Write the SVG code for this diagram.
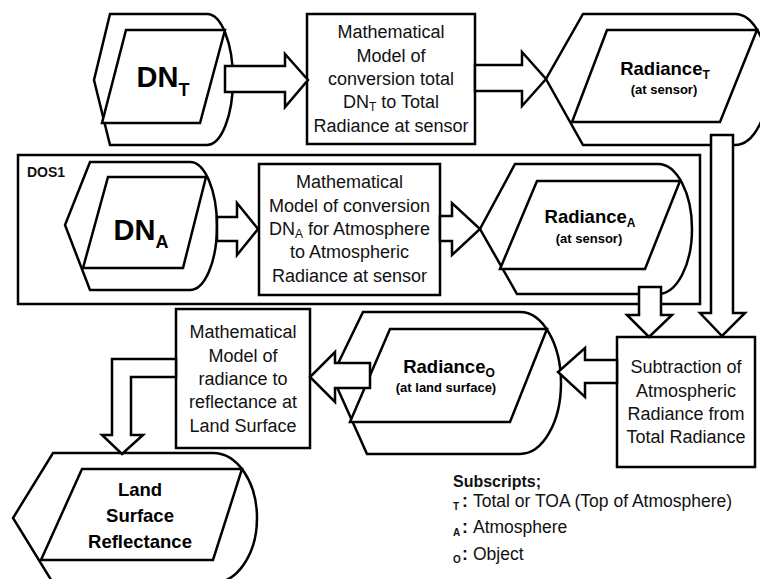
<svg xmlns="http://www.w3.org/2000/svg" width="760" height="579" viewBox="0 0 760 579">
<style>
  .ln { fill: #fff; stroke: #000; stroke-width: 2.5; stroke-linejoin: miter; }
  .fr { fill: none; stroke: #000; stroke-width: 2.5; }
  .tx { font-family: "Liberation Sans", Arial, sans-serif; font-size: 18px; fill: #111; text-anchor: middle; }
  .big { font-family: "Liberation Sans", Arial, sans-serif; font-size: 29px; font-weight: bold; fill: #000; text-anchor: middle; }
  .bsub { font-size: 18px; }
  .lab { font-family: "Liberation Sans", Arial, sans-serif; font-size: 18.5px; font-weight: bold; fill: #000; text-anchor: middle; }
  .lsub { font-size: 12px; }
  .small { font-family: "Liberation Sans", Arial, sans-serif; font-size: 13px; font-weight: bold; fill: #000; text-anchor: middle; }
  .tsub { font-size: 12px; }
  .leg { font-family: "Liberation Sans", Arial, sans-serif; font-size: 17.5px; fill: #111; }
  .legb { font-family: "Liberation Sans", Arial, sans-serif; font-size: 16px; font-weight: bold; fill: #111; }
  .legs { font-size: 10px; font-weight: bold; }
</style>
<rect width="760" height="579" fill="#fff"/>

<g id="dos1-frame">
  <rect class="fr" x="18" y="155" width="682" height="149"/>
  <text x="27" y="177" font-family="'Liberation Sans', Arial, sans-serif" font-size="14" font-weight="bold" fill="#111">DOS1</text>
</g>

<g id="node-dnt">
  <path class="ln" d="M110,14 L207,14 A26,65.5 0 0 1 207,145 L110,145 L94,80 Z"/>
  <path class="ln" d="M126,30 L225,30 L200,123 L102,123 Z"/>
  <text class="big" x="163" y="87">DN<tspan class="bsub" dy="9">T</tspan></text>
</g>

<g id="node-model1">
  <rect class="ln" x="307" y="14" width="168" height="130"/>
  <text class="tx" x="391" y="38">Mathematical</text>
  <text class="tx" x="391" y="62">Model of</text>
  <text class="tx" x="391" y="85">conversion total</text>
  <text class="tx" x="391" y="108">DN<tspan class="tsub" dy="3">T</tspan><tspan dy="-3"> to Total</tspan></text>
  <text class="tx" x="391" y="132">Radiance at sensor</text>
</g>

<g id="node-radt">
  <path class="ln" d="M583,14 L735,14 A34,65.5 0 0 1 735,145 L583,145 L546,79 Z"/>
  <path class="ln" d="M607,30 L757,30 L720,122 L572,122 Z"/>
  <text class="lab" x="665" y="75">Radiance<tspan class="lsub" dy="4">T</tspan></text>
  <text class="small" x="664" y="94">(at sensor)</text>
</g>

<g id="node-dna">
  <path class="ln" d="M90,162 L190,162 A27,64 0 0 1 190,290 L90,290 L65,225 Z"/>
  <path class="ln" d="M108,177 L206,177 L183,268 L83,268 Z"/>
  <text class="big" x="141" y="240">DN<tspan class="bsub" dy="8">A</tspan></text>
</g>

<g id="node-model2">
  <rect class="ln" x="259" y="164" width="181" height="131"/>
  <text class="tx" x="349.5" y="188">Mathematical</text>
  <text class="tx" x="349.5" y="212">Model of conversion</text>
  <text class="tx" x="349.5" y="235">DN<tspan class="tsub" dy="3">A</tspan><tspan dy="-3"> for Atmosphere</tspan></text>
  <text class="tx" x="349.5" y="258">to Atmospheric</text>
  <text class="tx" x="349.5" y="282">Radiance at sensor</text>
</g>

<g id="node-rada">
  <path class="ln" d="M515,164 L658,164 A34,65 0 0 1 658,294 L517,294 L480,229 Z"/>
  <path class="ln" d="M537,181 L680,181 L645,269 L500,269 Z"/>
  <text class="lab" x="590" y="223">Radiance<tspan class="lsub" dy="4">A</tspan></text>
  <text class="small" x="589" y="243">(at sensor)</text>
</g>

<g id="node-subtraction">
  <rect class="ln" x="617" y="337" width="138" height="130"/>
  <text class="tx" x="686" y="373">Subtraction of</text>
  <text class="tx" x="686" y="397">Atmospheric</text>
  <text class="tx" x="686" y="420">Radiance from</text>
  <text class="tx" x="686" y="443">Total Radiance</text>
</g>

<g id="node-rado">
  <path class="ln" d="M363,312 L520,312 A41,71 0 0 1 520,454 L367,454 L332,376 Z"/>
  <path class="ln" d="M390,329 L547,329 L510,422 L350,422 Z"/>
  <text class="lab" x="449" y="373">Radiance<tspan class="lsub" dy="4">O</tspan></text>
  <text class="small" x="446" y="392">(at land surface)</text>
</g>

<g id="node-model3">
  <rect class="ln" x="176" y="309" width="134" height="139"/>
  <text class="tx" x="243" y="338">Mathematical</text>
  <text class="tx" x="243" y="362">Model of</text>
  <text class="tx" x="243" y="385">radiance to</text>
  <text class="tx" x="243" y="408">reflectance at</text>
  <text class="tx" x="243" y="432">Land Surface</text>
</g>

<g id="node-lsr">
  <path class="ln" d="M53,453 L213,453 A44,65 0 0 1 213,583 L53,583 L13,518 Z"/>
  <path class="ln" d="M82,469 L242,469 L213,560 L41,560 Z"/>
  <text class="lab" x="140" y="496">Land</text>
  <text class="lab" x="140" y="522">Surface</text>
  <text class="lab" x="140" y="548">Reflectance</text>
</g>

<g id="connectors">
  <polygon class="ln" points="225,66 285,66 285,54 308,80 285,107 285,92 225,92"/>
  <polygon class="ln" points="475,65 522,65 522,52 546,79 522,106 522,91 475,91"/>
  <polygon class="ln" points="217,217 237,217 237,203 258,229 237,255 237,241 217,241"/>
  <polygon class="ln" points="440,216 452,216 452,203 480,229 452,255 452,241 440,241"/>
  <polygon class="ln" points="639,287 661,287 661,315 672,315 649,337 627,315 639,315"/>
  <polygon class="ln" points="711,135 733,135 733,313 745,313 722,336 700,313 711,313"/>
  <polygon class="ln" points="617,360 585,360 585,348 558,372 585,397 585,383 617,383"/>
  <polygon class="ln" points="370,363 335,363 335,352 310,377 335,402 335,388 370,388"/>
  <polygon class="ln" points="176,359 112,359 112,435 102,435 122,454 143,435 131,435 131,377 176,377"/>
</g>

<g id="legend">
  <text class="legb" x="453" y="487">Subscripts;</text>
  <text class="leg" x="453" y="507"><tspan class="legs" dy="3">T</tspan><tspan x="462" dy="-3" font-weight="bold">:</tspan><tspan x="473">Total or TOA (Top of Atmosphere)</tspan></text>
  <text class="leg" x="453" y="533"><tspan class="legs" dy="3">A</tspan><tspan x="462" dy="-3" font-weight="bold">:</tspan><tspan x="473">Atmosphere</tspan></text>
  <text class="leg" x="453" y="560"><tspan class="legs" dy="3">O</tspan><tspan x="462" dy="-3" font-weight="bold">:</tspan><tspan x="473">Object</tspan></text>
</g>
</svg>
